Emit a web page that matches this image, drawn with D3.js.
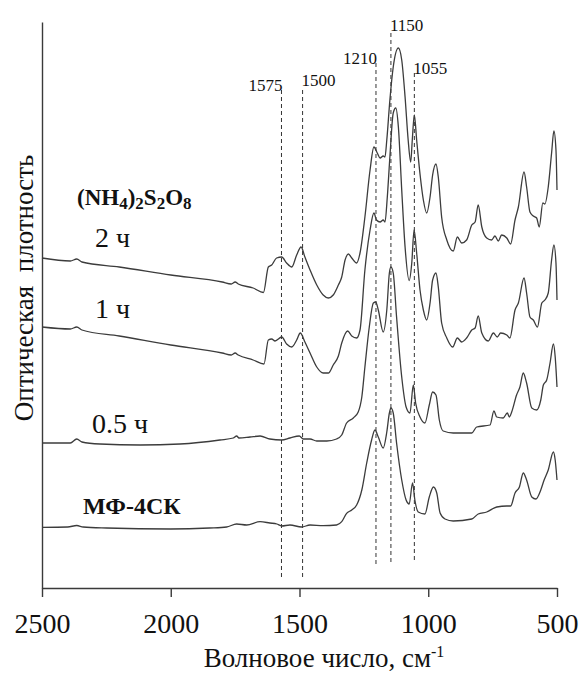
<!DOCTYPE html>
<html><head><meta charset="utf-8">
<script src="https://cdn.jsdelivr.net/npm/d3@7"></script>
<style>
body{margin:0;background:#fff;}
svg{display:block;}
text{font-family:"Liberation Serif","Times New Roman",serif;fill:#111;}
</style></head>
<body><svg id="c" width="580" height="677"></svg>
<script>
// ---------- data (wavenumber, optical density with stacking offset) ----------
const xTicks = [2500, 2000, 1500, 1000, 500];
const seriesNames = ["2 ч", "1 ч", "0.5 ч", "МФ-4СК"];

const spec2h = [[2500,3.30],[2390,3.27],[2365,3.29],[2345,3.26],[2200,3.21],[2000,3.13],[1800,3.06],[1765,3.04],[1750,3.06],[1738,3.04],[1680,3.00],[1640,2.955],[1621,3.21],[1608,3.23],[1589,3.30],[1569,3.31],[1550,3.25],[1530,3.21],[1511,3.33],[1494,3.41],[1479,3.31],[1459,3.18],[1433,3.03],[1408,2.93],[1388,2.90],[1369,2.93],[1349,3.03],[1336,3.11],[1323,3.28],[1310,3.34],[1297,3.30],[1278,3.25],[1265,3.35],[1246,3.71],[1226,4.18],[1211,4.41],[1198,4.35],[1187,4.30],[1175,4.32],[1168,4.31],[1161,4.48],[1149,4.88],[1136,5.21],[1116,5.40],[1103,5.28],[1090,4.91],[1078,4.48],[1068,4.26],[1062,4.48],[1054,4.73],[1045,4.48],[1032,4.14],[1019,3.88],[1006,3.75],[993,3.91],[983,4.13],[970,4.24],[961,4.11],[948,3.71],[928,3.48],[903,3.37],[887,3.51],[870,3.45],[851,3.48],[831,3.63],[818,3.66],[806,3.83],[792,3.61],[773,3.50],[754,3.48],[741,3.52],[728,3.47],[715,3.53],[695,3.50],[680,3.44],[663,3.68],[650,3.81],[628,4.16],[618,4.01],[605,3.76],[592,3.72],[579,3.70],[569,3.61],[555,3.85],[547,3.84],[534,4.01],[521,4.35],[512,4.57],[504,4.38],[500,3.98]];

const spec1h = [[2500,2.61],[2390,2.59],[2365,2.61],[2345,2.58],[2200,2.52],[2000,2.43],[1800,2.35],[1765,2.33],[1750,2.35],[1738,2.33],[1680,2.28],[1638,2.24],[1621,2.48],[1608,2.49],[1595,2.47],[1569,2.51],[1550,2.44],[1530,2.41],[1511,2.48],[1497,2.55],[1479,2.46],[1459,2.35],[1433,2.21],[1408,2.15],[1388,2.15],[1369,2.23],[1349,2.32],[1336,2.45],[1313,2.57],[1297,2.52],[1278,2.50],[1265,2.58],[1246,3.18],[1226,3.58],[1211,3.75],[1201,3.68],[1187,3.66],[1175,3.68],[1168,3.66],[1159,3.91],[1149,4.31],[1136,4.75],[1126,4.80],[1116,4.61],[1103,3.98],[1090,3.41],[1074,3.075],[1064,3.25],[1055,3.58],[1045,3.35],[1032,2.98],[1019,2.78],[1006,2.68],[993,2.85],[983,3.08],[970,3.15],[961,3.01],[948,2.65],[928,2.50],[905,2.41],[887,2.50],[870,2.46],[851,2.50],[831,2.58],[818,2.60],[806,2.72],[792,2.55],[767,2.47],[747,2.55],[732,2.51],[719,2.55],[695,2.53],[683,2.50],[663,2.78],[650,2.85],[628,3.10],[618,2.95],[605,2.71],[592,2.68],[576,2.61],[559,2.85],[547,2.88],[534,2.95],[521,3.28],[512,3.43],[504,3.25],[500,2.88]];

const spec05h = [[2500,1.45],[2390,1.45],[2365,1.49],[2345,1.46],[2275,1.44],[2119,1.43],[1964,1.44],[1809,1.48],[1757,1.50],[1744,1.52],[1735,1.50],[1692,1.51],[1653,1.52],[1615,1.49],[1569,1.48],[1537,1.50],[1501,1.52],[1485,1.49],[1459,1.49],[1433,1.47],[1394,1.47],[1356,1.49],[1336,1.53],[1317,1.65],[1291,1.70],[1272,1.76],[1258,1.91],[1246,2.21],[1229,2.61],[1213,2.85],[1204,2.86],[1194,2.78],[1175,2.56],[1161,2.78],[1151,3.15],[1145,3.21],[1136,3.15],[1123,2.71],[1103,2.11],[1086,1.81],[1071,1.75],[1058,2.03],[1049,1.85],[1032,1.71],[1013,1.65],[996,1.83],[983,1.96],[970,1.93],[957,1.68],[942,1.57],[903,1.55],[831,1.55],[812,1.61],[760,1.63],[745,1.77],[734,1.71],[709,1.70],[693,1.75],[685,1.71],[676,1.76],[657,1.93],[644,2.01],[631,2.15],[618,2.05],[598,1.80],[579,1.78],[563,1.88],[553,2.03],[540,2.08],[527,2.25],[514,2.44],[507,2.31],[500,2.01]];

const specMF = [[2500,0.607],[2400,0.61],[2365,0.625],[2340,0.61],[2249,0.60],[2000,0.59],[1850,0.60],[1783,0.61],[1744,0.64],[1705,0.63],[1653,0.663],[1615,0.65],[1588,0.64],[1569,0.62],[1537,0.63],[1492,0.61],[1459,0.63],[1408,0.623],[1356,0.63],[1336,0.663],[1317,0.747],[1297,0.78],[1278,0.83],[1258,0.98],[1239,1.25],[1220,1.48],[1207,1.58],[1194,1.51],[1175,1.40],[1161,1.56],[1151,1.75],[1145,1.80],[1136,1.75],[1123,1.45],[1103,1.08],[1086,0.88],[1074,0.84],[1061,1.05],[1052,0.88],[1039,0.76],[1013,0.74],[996,0.91],[980,1.01],[967,0.95],[954,0.75],[935,0.69],[903,0.67],[831,0.69],[806,0.74],[773,0.76],[734,0.81],[695,0.82],[680,0.82],[663,0.95],[646,1.01],[631,1.15],[618,1.08],[598,0.91],[582,0.89],[563,0.98],[550,1.08],[534,1.18],[514,1.36],[507,1.28],[500,1.08]];

// reference bands (drawn position, label, top/bottom in density units)
const bandPos = [1570, 1488, 1203, 1145, 1054];
const bandLabels = ["1575", "1500", "1210", "1150", "1055"];
const bandTop = [4.98, 4.98, 5.25, 5.55, 5.15];
const bandBottom = [0.11, 0.10, 0.24, 0.24, 0.27];
const bandAnchor = ["end", "start", "end", "start", "start"];
const bandLabelY = [5.01, 5.06, 5.28, 5.61, 5.18];

// ---------- drawing ----------
const svg = d3.select("#c");
const x = d3.scaleLinear().domain([2500, 500]).range([42, 557]);
const y = d3.scaleLinear().domain([0, 5.66]).range([588, 22]);
const SERIF = '"Liberation Serif","Times New Roman",serif';

// axes
const gx = svg.append("g").attr("transform", "translate(0,588)")
  .call(d3.axisBottom(x).tickValues(xTicks).tickSize(9).tickSizeOuter(0).tickFormat(d3.format("d")));
gx.attr("font-family", SERIF).attr("font-size", 27);
gx.selectAll("path,line").attr("stroke", "#3a3a3a").attr("stroke-width", 1.4);
gx.selectAll("text").attr("y", 45).attr("dy", 0)
  .attr("font-family", SERIF).style("font-family", SERIF).style("font-size", "28px").attr("fill", "#111");

const gy = svg.append("g").attr("transform", "translate(42,0)")
  .call(d3.axisLeft(y).tickValues([]).tickSizeOuter(0));
gy.selectAll("path").attr("stroke", "#3a3a3a").attr("stroke-width", 1.4);

// dashed bands
bandPos.forEach((p, i) => {
  svg.append("line").attr("x1", x(p)).attr("x2", x(p))
    .attr("y1", y(bandTop[i])).attr("y2", y(bandBottom[i]))
    .attr("stroke", "#333").attr("stroke-width", 1).attr("stroke-dasharray", "4,3");
  svg.append("text").attr("x", x(p) + (bandAnchor[i] === "start" ? -1 : 1))
    .attr("y", y(bandLabelY[i]) + 4).attr("text-anchor", bandAnchor[i])
    .style("font-size", "17px").text(bandLabels[i]);
});

// spectra
const line = d3.line().x(d => x(d[0])).y(d => y(d[1])).curve(d3.curveMonotoneX);
[spec2h, spec1h, spec05h, specMF].forEach(s => {
  svg.append("path").datum(s).attr("d", line).attr("fill", "none")
    .attr("stroke", "#3c3c3c").attr("stroke-width", 1.3).attr("stroke-linejoin", "round");
});

// labels
const t1 = svg.append("text").attr("x", 77).attr("y", 205).style("font-size", "23px").style("font-weight", "bold");
t1.append("tspan").text("(NH");
t1.append("tspan").attr("dy", 4).style("font-size", "17px").text("4");
t1.append("tspan").attr("dy", -4).text(")");
t1.append("tspan").attr("dy", 4).style("font-size", "17px").text("2");
t1.append("tspan").attr("dy", -4).text("S");
t1.append("tspan").attr("dy", 4).style("font-size", "17px").text("2");
t1.append("tspan").attr("dy", -4).text("O");
t1.append("tspan").attr("dy", 4).style("font-size", "17px").text("8");

const labX = [95, 95, 92, 83];
const labY = [247, 318, 433, 514];
seriesNames.forEach((n, i) => {
  const t = svg.append("text").attr("x", labX[i]).attr("y", labY[i]).text(n)
    .style("white-space", "pre");
  if (i === 3) t.style("font-size", "24px").style("font-weight", "bold");
  else t.style("font-size", "28px");
});

// axis titles
const xt = svg.append("text").attr("x", 324).attr("y", 667).attr("text-anchor", "middle").style("font-size", "27px");
xt.append("tspan").text("Волновое число, см");
xt.append("tspan").attr("dy", -10).style("font-size", "16px").text("-1");

svg.append("text").attr("transform", "translate(33,288) rotate(-90)").attr("text-anchor", "middle")
  .style("font-size", "27px").style("white-space", "pre").text("Оптическая  плотность");
</script></body></html>
